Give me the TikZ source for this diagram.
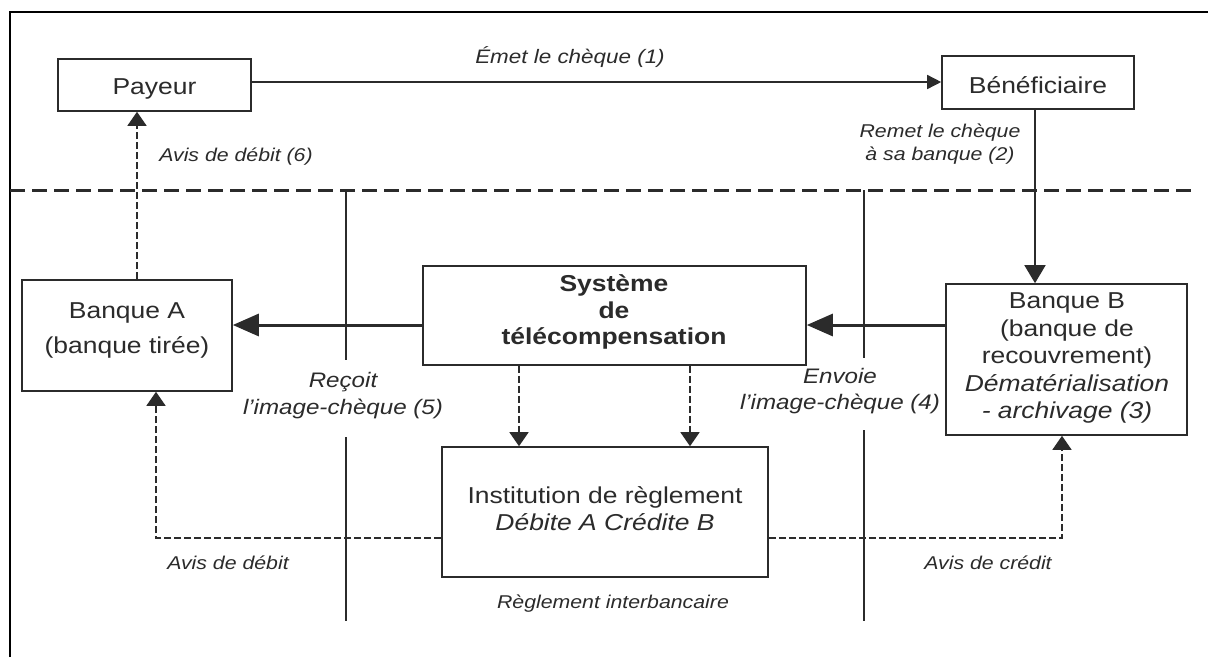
\documentclass[tikz,border=0pt]{standalone}
\usepackage{fontspec}
\setmainfont{Liberation Sans}[FakeStretch=1.15]
\usetikzlibrary{arrows.meta,calc}
\definecolor{ink}{HTML}{2B2B2B}
\begin{document}
\begin{tikzpicture}[x=1pt,y=-1pt,
  box/.style={draw=ink,line width=1.6pt,fill=white,inner sep=0pt},
  boxtxt/.style={text=ink,align=center,inner sep=0pt,font=\fontsize{23}{#1}\selectfont},
  boxtxt/.default=27,
  lab/.style={text=ink,align=center,inner sep=0pt,font=\fontsize{18.5}{#1}\selectfont\itshape},
  lab/.default=23,
  biglab/.style={text=ink,align=center,inner sep=0pt,font=\fontsize{21}{#1}\selectfont\itshape},
  biglab/.default=26.5,
  conn/.style={draw=ink,line width=1.5pt},
  solidarrow/.style={conn,-{Triangle[length=14pt,width=14pt]}},
  downarrow/.style={conn,-{Triangle[length=18pt,width=21pt]}},
  bigarrow/.style={draw=ink,line width=3pt,-{Triangle[length=26pt,width=22pt]}},
  dasharrow/.style={conn,dash pattern=on 7pt off 3pt,-{Triangle[length=14pt,width=19pt]}},
  dashline/.style={conn,dash pattern=on 7pt off 3pt},
  sepline/.style={draw=ink,line width=3pt,dash pattern=on 15pt off 7pt},
  lane/.style={draw=ink,line width=1.3pt}
]
\useasboundingbox[fill=white] (0,0) rectangle (1208,657);

% outer frame (top and left)
\draw[line width=2pt,black] (10,657) -- (10,12) -- (1208,12);

% separator
\draw[sepline] (10,190) -- (1197,190);

% lanes
\draw[lane] (346,190) -- (346,360);
\draw[lane] (346,437) -- (346,621);
\draw[lane] (864,190) -- (864,358);
\draw[lane] (864,430) -- (864,621);

% boxes
\node[box,minimum width=193pt,minimum height=52pt] (pay) at (154.5,85) {};
\node[boxtxt] (payT) at (154.5,89) {Payeur};

\node[box,minimum width=192pt,minimum height=53pt] (ben) at (1038,82.5) {};
\node[boxtxt] (benT) at (1038,85) {Bénéficiaire};

\node[box,minimum width=210pt,minimum height=111pt] (bA) at (127,335.5) {};
\node[boxtxt=35] (bAT) at (127,330) {Banque A\\(banque tirée)};

\node[box,minimum width=383pt,minimum height=99pt] (sys) at (614.5,315.5) {};
\node[boxtxt=26.5] (sysT) at (614,312) {\bfseries Système\\\bfseries de\\\bfseries télécompensation};

\node[box,minimum width=241pt,minimum height=151pt] (bB) at (1066.5,359.5) {};
\node[boxtxt=27.5] (bBT) at (1067,358) {Banque B\\(banque de\\recouvrement)\\\textit{Dématérialisation}\\\textit{- archivage (3)}};

\node[box,minimum width=326pt,minimum height=130pt] (inst) at (605,512) {};
\node[boxtxt=27] (instT) at (605,508.5) {Institution de règlement\\\textit{Débite A Crédite B}};

% helper coordinates
\coordinate (yTop) at (0,82);
\coordinate (yMid) at (0,325);
\coordinate (yLow) at (0,538);
\coordinate (x6) at (137,0);
\coordinate (xA) at (156,0);
\coordinate (xB) at (1062,0);
\coordinate (xS1) at (519,0);
\coordinate (xS2) at (690,0);
\coordinate (xBen) at (1035,0);

% connectors
\draw[solidarrow] (pay.east |- yTop) -- (ben.west |- yTop);
\draw[downarrow] (ben.south -| xBen) -- (bB.north -| xBen);
\draw[dasharrow] (bA.north -| x6) -- (pay.south -| x6);
\draw[bigarrow] (sys.west |- yMid) -- (bA.east |- yMid);
\draw[bigarrow] (bB.west |- yMid) -- (sys.east |- yMid);
\draw[dasharrow] (sys.south -| xS1) -- (inst.north -| xS1);
\draw[dasharrow] (sys.south -| xS2) -- (inst.north -| xS2);
\draw[dasharrow] (inst.west |- yLow) -| (bA.south -| xA);
\draw[dasharrow] (inst.east |- yLow) -| (bB.south -| xB);

% labels
\node[lab] (l1) at (570,57) {\fontsize{19.5}{23}\selectfont Émet le chèque (1)};
\node[lab] (l6) at (236,157) {Avis de débit (6)};
\node[lab] (l2) at (940,144.5) {Remet le chèque\\à sa banque (2)};
\node[biglab=27] (l5) at (343,395.5) {Reçoit\\l'image-chèque (5)};
\node[biglab=26] (l4) at (840,391) {Envoie\\l'image-chèque (4)};
\node[lab] (ld) at (228,563) {Avis de débit};
\node[lab] (lc) at (988,563) {Avis de crédit};
\node[lab] (lr) at (613,604) {Règlement interbancaire};
\end{tikzpicture}
\end{document}
